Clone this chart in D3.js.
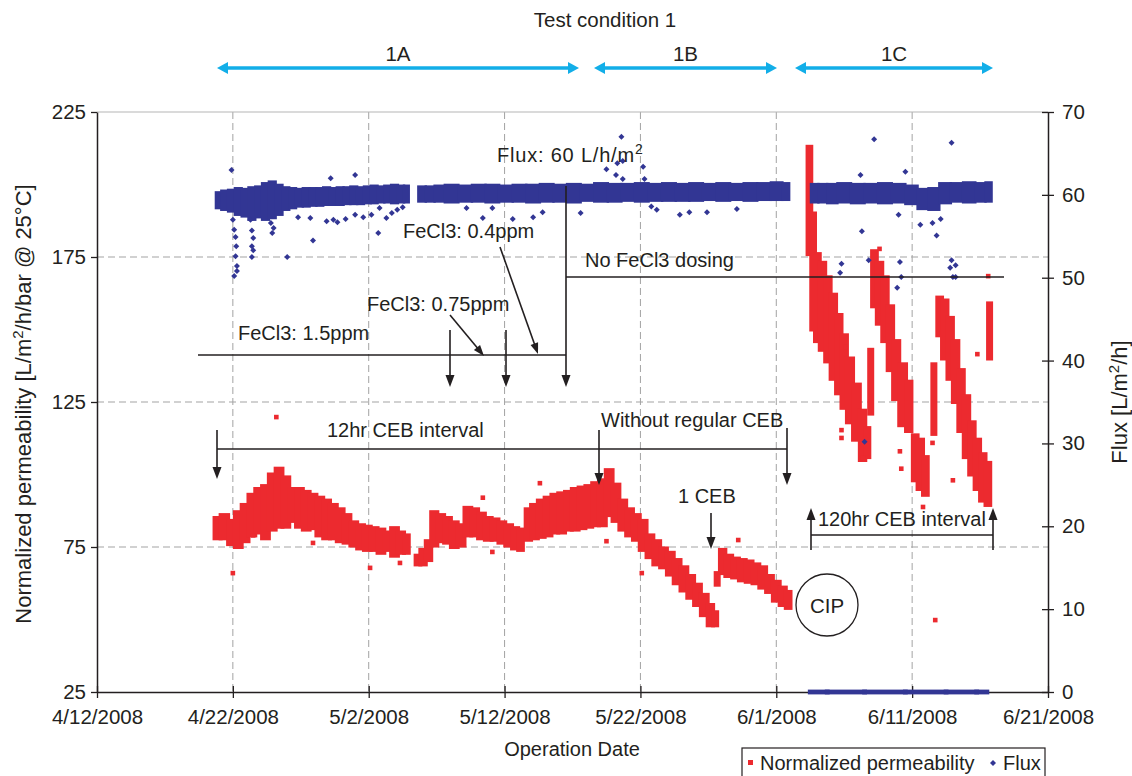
<!DOCTYPE html>
<html>
<head>
<meta charset="utf-8">
<script src="https://cdn.jsdelivr.net/npm/d3@7"></script>
<style>
  body { margin: 0; background: #fff; }
  text { font-family: "Liberation Sans", Arial, sans-serif; fill: #231f20; }
</style>
</head>
<body>
<svg id="chart" width="1132" height="776"></svg>
<script>
/* --------------------------------------------------------- */
/* DATA  (day = days after 4/12/2008)                         */
/* --------------------------------------------------------- */
const dateTicks = ["4/12/2008", "4/22/2008", "5/2/2008", "5/12/2008", "5/22/2008", "6/1/2008", "6/11/2008", "6/21/2008"];
const permTicks = [25, 75, 125, 175, 225];
const fluxTicks = [0, 10, 20, 30, 40, 50, 60, 70];

// normalized permeability, dense clusters read as [day, low, high]
const permSeg1 = [
  [8.8, 78, 85], [9.4, 78, 86], [9.9, 76, 84], [10.4, 75, 87], [10.9, 77, 89.5], [11.4, 79, 93],
  [11.9, 80, 95], [12.4, 78, 96], [12.9, 81, 100], [13.4, 82, 102], [13.9, 82, 99], [14.4, 84, 95],
  [14.9, 82, 95], [15.4, 81, 94], [15.9, 81.5, 93], [16.4, 79, 92], [16.9, 78, 91], [17.4, 78, 89.5],
  [17.9, 77, 88], [18.4, 76.5, 86], [18.9, 75.5, 83.5], [19.4, 74.5, 82.5], [19.9, 74, 82], [20.4, 74, 81.5],
  [20.9, 73, 81], [21.4, 74, 80], [21.9, 72, 81.5], [22.4, 73, 80], [22.8, 73, 79]
];
const permSeg2 = [
  [23.6, 69, 72], [24.0, 69, 74], [24.4, 70.5, 77], [24.8, 75.5, 87], [25.3, 77, 86], [25.8, 76.5, 85],
  [26.3, 75, 83.5], [26.8, 75.5, 82.5], [27.3, 79, 88.5], [27.8, 79, 88], [28.3, 78, 86.5], [28.8, 77.5, 85],
  [29.3, 77.5, 84.5], [29.8, 76.5, 83.5], [30.3, 75.5, 82.5], [30.8, 74.5, 81.5], [31.2, 74, 81]
];
const permSeg3 = [
  [31.7, 77.5, 88], [32.2, 78, 89.5], [32.7, 78.5, 91], [33.2, 79, 92], [33.7, 80, 93], [34.2, 80, 93.5],
  [34.7, 81, 94], [35.2, 81, 95], [35.7, 81.5, 95.5], [36.2, 82, 96], [36.7, 82.5, 97], [37.2, 82.5, 98],
  [37.7, 86, 101.5], [38.2, 84, 96.5], [38.7, 81, 91], [39.2, 79, 88], [39.7, 77.5, 86], [40.2, 74, 84],
  [40.7, 71.5, 79], [41.2, 69, 77], [41.7, 68, 74.5], [42.2, 65.5, 73], [42.7, 62.5, 70.5], [43.2, 60, 68],
  [43.7, 57.5, 65], [44.2, 55, 62], [44.7, 51.5, 58.5], [45.2, 48, 55], [45.5, 48, 52.5]
];
const permSeg4 = [
  [46.0, 66, 74], [46.5, 65, 72], [47.0, 64.5, 71], [47.5, 63.5, 70.5], [48.0, 63, 70],
  [48.5, 62.5, 69], [49.0, 61, 68], [49.5, 59.5, 65], [50.0, 56.5, 63], [50.5, 55, 61], [50.9, 54, 59.5]
];
const perm1Ccycle1 = [
  [52.45, 176, 213], [52.7, 150, 190], [53.0, 146, 176], [53.4, 143, 173], [53.8, 139, 168], [54.2, 133, 162],
  [54.6, 128, 155], [55.0, 123, 148], [55.4, 118, 140], [55.9, 112, 131], [56.4, 105, 122], [56.7, 106, 116]
];
const perm1Ccycle2 = [
  [57.2, 158, 177], [57.6, 152, 173], [58.0, 146, 168], [58.4, 136, 158], [58.8, 126, 146],
  [59.3, 117, 138], [59.8, 115, 132]
];
const perm1Cblob = [[60.2, 98, 113.5], [60.6, 95, 112], [61.0, 93, 106]];
const perm1Ccycle3 = [
  [62.0, 148, 161], [62.4, 140, 160], [62.8, 133, 154], [63.2, 125, 146], [63.6, 115, 136],
  [64.0, 106, 127], [64.4, 100, 118], [64.8, 95, 112], [65.2, 91, 107], [65.6, 89.5, 104]
];
const permStreaks = [[45.65, 62, 66], [56.95, 121, 143], [61.6, 114, 138], [65.7, 140, 159]];
const permOutliers = [
  [13.2, 119.8], [10.0, 66.0], [20.1, 67.8], [15.9, 76.4], [11.5, 79.0], [22.3, 69.5], [28.4, 92.0],
  [32.6, 97.0], [37.5, 77.0], [29.1, 73.3], [40.1, 66.0], [47.2, 77.4], [54.8, 115.3], [54.8, 112.6],
  [56.4, 105.7], [59.1, 108.0], [59.2, 102.0], [64.8, 141.5], [63.0, 98.0], [60.8, 88.8], [65.6, 168.4],
  [61.5, 110.9], [61.7, 49.8], [57.6, 177.8], [55.1, 144.0]
];

// flux clusters [day, low, high]
const fluxA = [
  [8.9, 58.4, 60.3], [9.4, 58.2, 60.5], [9.9, 58.0, 60.6], [10.4, 57.6, 60.8], [10.9, 57.4, 60.7],
  [11.4, 57.0, 60.9], [11.9, 57.3, 61.0], [12.4, 57.0, 61.4], [12.9, 57.2, 61.6], [13.4, 57.6, 61.2],
  [13.9, 58.2, 60.9], [14.4, 58.4, 60.8], [14.9, 58.6, 60.7], [15.4, 58.6, 60.8], [15.9, 58.7, 60.8],
  [16.4, 58.7, 60.8], [16.9, 58.8, 60.9], [17.4, 58.8, 60.8], [17.9, 58.8, 60.9], [18.4, 58.9, 60.9],
  [18.9, 58.9, 61.0], [19.4, 58.9, 60.9], [19.9, 59.0, 61.0], [20.4, 59.0, 61.1], [20.9, 59.1, 61.0],
  [21.4, 59.1, 61.1], [21.9, 59.0, 61.2], [22.4, 59.1, 61.1], [22.8, 59.1, 61.1]
];
const fluxB = [
  [23.8, 59.2, 61.0], [24.6, 59.2, 61.0], [25.1, 59.2, 61.1], [26.1, 59.1, 61.2], [27.1, 59.2, 61.1], [28.1, 59.2, 61.2],
  [29.1, 59.1, 61.2], [30.1, 59.2, 61.1], [31.1, 59.2, 61.2], [32.1, 59.1, 61.2], [33.1, 59.2, 61.3],
  [34.1, 59.2, 61.2], [35.1, 59.1, 61.3], [36.1, 59.3, 61.2], [37.1, 59.2, 61.4], [38.1, 59.2, 61.3],
  [39.1, 59.3, 61.3], [40.1, 59.2, 61.4], [41.1, 59.3, 61.3], [42.1, 59.3, 61.4], [43.1, 59.3, 61.3],
  [44.1, 59.3, 61.4], [45.1, 59.4, 61.3], [46.1, 59.3, 61.4], [47.1, 59.4, 61.3], [48.1, 59.3, 61.4],
  [49.1, 59.4, 61.4], [50.1, 59.4, 61.5], [50.8, 59.4, 61.4]
];
const fluxC = [
  [52.7, 59.1, 61.3], [53.5, 59.1, 61.3], [54.0, 59.0, 61.3], [55.0, 59.1, 61.4], [56.0, 59.0, 61.3], [57.0, 59.1, 61.3],
  [58.0, 59.0, 61.4], [59.0, 59.1, 61.3], [60.0, 58.9, 61.1], [60.8, 58.3, 60.7], [61.6, 58.2, 60.8],
  [62.4, 59.0, 61.4], [63.3, 59.2, 61.4], [64.2, 59.1, 61.5], [65.1, 59.2, 61.4], [65.7, 59.2, 61.5]
];
const fluxZero = [[52.5, 0, 0], [55.0, 0, 0], [58.0, 0, 0], [61.0, 0, 0], [64.0, 0, 0], [65.5, 0, 0]];
const fluxOutliers = [
  [9.9, 63.0], [10.0, 57.0], [10.1, 55.8], [10.2, 54.9], [10.25, 53.8], [10.2, 52.6], [10.3, 51.4], [10.3, 50.8], [10.1, 50.2],
  [11.3, 57.0], [11.4, 55.7], [11.5, 54.8], [11.4, 53.8], [11.5, 53.3], [11.4, 52.5],
  [12.8, 56.6], [12.9, 55.4], [13.0, 56.0],
  [14.0, 52.5], [14.8, 57.3], [15.7, 57.2], [15.9, 54.5], [16.9, 56.8], [17.2, 62.0], [17.4, 57.0], [17.7, 56.7],
  [18.3, 57.1], [19.0, 57.6], [19.0, 62.4], [19.6, 57.3], [20.2, 57.6], [20.7, 55.4], [20.8, 58.4], [21.3, 57.2],
  [21.7, 57.8], [22.1, 58.2], [22.5, 58.5],
  [27.2, 58.4], [28.4, 57.2], [29.1, 58.4], [30.6, 57.1], [32.1, 57.3], [32.8, 57.9], [35.6, 57.8], [37.5, 63.1],
  [38.2, 62.4], [38.3, 63.8], [38.7, 64.1], [38.6, 67.0], [38.7, 61.9], [40.2, 63.4], [40.3, 61.9], [40.8, 58.6],
  [41.2, 58.2], [42.9, 57.6], [43.6, 57.9], [44.9, 57.9], [47.1, 58.3],
  [54.7, 50.6], [54.8, 51.7], [56.2, 62.4], [56.3, 55.6], [56.5, 30.2], [56.8, 52.1], [57.2, 66.7], [58.9, 48.8],
  [59.0, 57.6], [59.1, 51.9], [59.2, 50.1], [59.5, 62.8], [60.6, 56.4], [61.5, 56.6], [61.8, 55.1], [62.1, 57.1],
  [62.8, 51.2], [62.9, 52.1], [62.9, 66.3], [63.0, 50.1], [63.2, 51.5], [63.2, 50.1]
];

/* --------------------------------------------------------- */
/* SCALES                                                     */
/* --------------------------------------------------------- */
const INK = "#231f20", RED = "#ec2a2f", BLUE = "#323694", CYAN = "#12aee8", GRID = "#a3a3a3";
const parseDate = d3.timeParse("%m/%d/%Y");
const base = parseDate(dateTicks[0]);
const day = d => new Date(base.getTime() + d * 864e5);

const plot = { left: 97, right: 1048, top: 112, bottom: 692 };
const x = d3.scaleTime().domain([base, parseDate(dateTicks[dateTicks.length - 1])]).range([plot.left, plot.right]);
const yL = d3.scaleLinear().domain([25, 225]).range([plot.bottom, plot.top]);
const yR = d3.scaleLinear().domain([0, 70]).range([plot.bottom, plot.top]);

const svg = d3.select("#chart");
svg.append("rect").attr("width", 1132).attr("height", 776).attr("fill", "#fff");

/* grid */
const grid = svg.append("g").attr("stroke", GRID).attr("stroke-dasharray", "7,4").attr("stroke-width", 1);
grid.selectAll(null).data(dateTicks.slice(1, -1).map(parseDate)).join("line")
  .attr("x1", d => x(d)).attr("x2", d => x(d)).attr("y1", plot.top).attr("y2", plot.bottom);
grid.selectAll(null).data(permTicks.slice(1, -1)).join("line")
  .attr("x1", plot.left).attr("x2", plot.right).attr("y1", d => yL(d)).attr("y2", d => yL(d));
svg.append("line").attr("x1", plot.left).attr("x2", plot.right).attr("y1", plot.top).attr("y2", plot.top)
  .attr("stroke", "#b5b5b5").attr("stroke-width", 1.2);

/* axes */
const fmt = d3.timeFormat("%-m/%-d/%Y");
function styleAxis(g, size) {
  g.select(".domain").attr("stroke", INK).attr("stroke-width", 1.5);
  g.selectAll(".tick line").attr("stroke", INK).attr("stroke-width", 1.3);
  g.selectAll(".tick text").attr("fill", INK).style("font-size", size + "px").attr("font-family", null);
}
const axL = svg.append("g").attr("transform", `translate(${plot.left},0)`)
  .call(d3.axisLeft(yL).tickValues(permTicks).tickSize(6).tickSizeOuter(0).tickPadding(5));
styleAxis(axL, 20.5);
const axR = svg.append("g").attr("transform", `translate(${plot.right},0)`)
  .call(d3.axisRight(yR).tickValues(fluxTicks).tickSize(6).tickSizeOuter(0).tickPadding(8));
axR.selectAll(".tick line").attr("x1", -6);
styleAxis(axR, 20.5);
const axB = svg.append("g").attr("transform", `translate(0,${plot.bottom})`)
  .call(d3.axisBottom(x).tickValues(dateTicks.map(parseDate)).tickFormat(fmt).tickSize(6).tickSizeOuter(0).tickPadding(11));
axB.selectAll(".tick line").attr("y1", -6);
styleAxis(axB, 20.5);

/* --------------------------------------------------------- */
/* MARKS                                                      */
/* --------------------------------------------------------- */
const marks = svg.append("g");

// each reading of a dense run is a block spanning half way to its neighbours
function drawBlocks(data, yScale, color, pad, edge) {
  const xs = data.map(d => x(day(d[0])));
  marks.append("g").attr("fill", color).selectAll("rect").data(data).join("rect")
    .attr("x", (d, i) => (i > 0 ? (xs[i - 1] + xs[i]) / 2 : xs[i] - edge) - pad)
    .attr("width", (d, i) => {
      const a = i > 0 ? (xs[i - 1] + xs[i]) / 2 : xs[i] - edge;
      const b = i < xs.length - 1 ? (xs[i] + xs[i + 1]) / 2 : xs[i] + edge;
      return b - a + 2 * pad;
    })
    .attr("y", d => yScale(d[2]) - pad)
    .attr("height", d => yScale(d[1]) - yScale(d[2]) + 2 * pad);
}

[permSeg1, permSeg2, permSeg3, permSeg4, perm1Ccycle1, perm1Ccycle2, perm1Cblob, perm1Ccycle3]
  .forEach(s => drawBlocks(s, yL, RED, 2, 2));
permStreaks.forEach(s => drawBlocks([s], yL, RED, 2, 1.5));
marks.append("g").attr("fill", RED).selectAll("rect").data(permOutliers).join("rect")
  .attr("x", d => x(day(d[0])) - 2.3).attr("y", d => yL(d[1]) - 2.3).attr("width", 4.6).attr("height", 4.6);

[fluxA, fluxB, fluxC].forEach(s => drawBlocks(s, yR, BLUE, 1.2, 2));
drawBlocks(fluxZero, yR, BLUE, 2.4, 0);
const diamond = "M0,-3L3,0L0,3L-3,0Z";
marks.append("g").attr("fill", BLUE).selectAll("path").data(fluxOutliers).join("path")
  .attr("d", diamond).attr("transform", d => `translate(${x(day(d[0]))},${yR(d[1])})`);

/* --------------------------------------------------------- */
/* ANNOTATIONS                                                */
/* --------------------------------------------------------- */
const ann = svg.append("g");
function arrow(x1, y1, x2, y2, opt) {
  const o = Object.assign({ color: INK, width: 1.6, len: 12, half: 4.5, both: false }, opt || {});
  const a = Math.atan2(y2 - y1, x2 - x1), c = Math.cos(a), s = Math.sin(a);
  const head = (tx, ty, cc, ss) => {
    const bx = tx - cc * o.len, by = ty - ss * o.len;
    return `M${tx},${ty}L${bx - ss * o.half},${by + cc * o.half}L${bx + ss * o.half},${by - cc * o.half}Z`;
  };
  const k = o.len - 2;
  ann.append("line")
    .attr("x1", o.both ? x1 + c * k : x1).attr("y1", o.both ? y1 + s * k : y1)
    .attr("x2", x2 - c * k).attr("y2", y2 - s * k)
    .attr("stroke", o.color).attr("stroke-width", o.width);
  ann.append("path").attr("d", head(x2, y2, c, s)).attr("fill", o.color);
  if (o.both) ann.append("path").attr("d", head(x1, y1, -c, -s)).attr("fill", o.color);
}
function line(x1, y1, x2, y2) {
  ann.append("line").attr("x1", x1).attr("y1", y1).attr("x2", x2).attr("y2", y2)
    .attr("stroke", INK).attr("stroke-width", 1.6);
}
function label(t, px, py, size, anchor) {
  return ann.append("text").attr("x", px).attr("y", py).attr("text-anchor", anchor || "start")
    .style("font-size", (size || 20) + "px").text(t);
}

// test condition header
label("Test condition 1", 605, 27, 20.5, "middle");
[["1A", 217, 579], ["1B", 594, 777], ["1C", 795, 993]].forEach(p => {
  label(p[0], (p[1] + p[2]) / 2, 61, 20.5, "middle");
  arrow(p[1], 68, p[2], 68, { color: CYAN, width: 3.5, len: 11, half: 6, both: true });
});

// flux note
const fl = label("Flux: 60 L/h/m", 497, 162, 20).attr("letter-spacing", "0.8px");
fl.append("tspan").attr("dy", -8).style("font-size", "14px").text("2");

// FeCl3 dosing
label("FeCl3: 0.4ppm", 403, 238, 20);
label("No FeCl3 dosing", 585, 267, 20);
label("FeCl3: 0.75ppm", 367, 311, 20);
label("FeCl3: 1.5ppm", 238, 340, 20);
line(198, 355, 566, 355);
line(566, 277, 1004, 277);
arrow(566, 186, 566, 387);
arrow(450, 330, 450, 387);
arrow(506, 330, 506, 387);
arrow(450, 315, 484, 356, { len: 11, half: 4 });
arrow(500, 247, 538, 354, { len: 11, half: 4 });

// CEB notes
label("12hr CEB interval", 327, 437, 20);
label("Without regular CEB", 601, 427, 20);
line(217, 449, 787, 449);
arrow(217, 430, 217, 479);
arrow(599, 430, 599, 485);
arrow(787, 428, 787, 485);
label("1 CEB", 678, 503, 20);
arrow(711, 513, 711, 549);
label("120hr CEB interval", 818, 526, 20);
arrow(811, 550, 811, 508);
arrow(993, 550, 993, 508);
line(811, 535, 993, 535);

// CIP
ann.append("circle").attr("cx", 827).attr("cy", 605).attr("r", 31)
  .attr("fill", "#fff").attr("stroke", INK).attr("stroke-width", 1.3);
label("CIP", 827, 613, 20.5, "middle");

/* axis titles */
label("Operation Date", 572, 756, 20, "middle");
const tl = ann.append("text").attr("transform", "translate(31,404) rotate(-90)")
  .attr("text-anchor", "middle").style("font-size", "22px");
tl.append("tspan").text("Normalized permeability [L/m");
tl.append("tspan").attr("dy", -8).style("font-size", "15px").text("2");
tl.append("tspan").attr("dy", 8).text("/h/bar @ 25°C]");
const tr = ann.append("text").attr("transform", "translate(1127,402) rotate(-90)")
  .attr("text-anchor", "middle").style("font-size", "22px");
tr.append("tspan").text("Flux [L/m");
tr.append("tspan").attr("dy", -8).style("font-size", "15px").text("2");
tr.append("tspan").attr("dy", 8).text("/h]");

/* legend */
const lg = svg.append("g");
lg.append("rect").attr("x", 742).attr("y", 748).attr("width", 303).attr("height", 40)
  .attr("fill", "#fff").attr("stroke", INK).attr("stroke-width", 1.2);
lg.append("rect").attr("x", 748).attr("y", 760).attr("width", 5).attr("height", 5).attr("fill", RED);
lg.append("text").attr("x", 760).attr("y", 770).style("font-size", "20px").text("Normalized permeability");
lg.append("path").attr("d", diamond).attr("transform", "translate(993,763)").attr("fill", BLUE);
lg.append("text").attr("x", 1003).attr("y", 770).style("font-size", "20px").text("Flux");
</script>
</body>
</html>
